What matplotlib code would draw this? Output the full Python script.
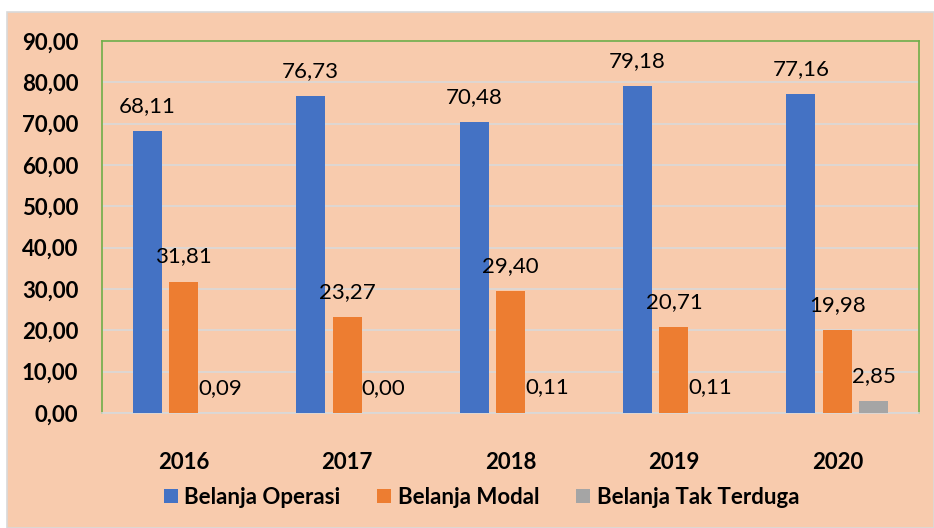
import matplotlib.pyplot as plt
import numpy as np
from matplotlib.patches import Rectangle

plt.rcParams['font.family'] = ['Lato', 'DejaVu Sans']

years = ["2016", "2017", "2018", "2019", "2020"]
operasi = [68.11, 76.73, 70.48, 79.18, 77.16]
modal = [31.81, 23.27, 29.40, 20.71, 19.98]
tak_terduga = [0.09, 0.00, 0.11, 0.11, 2.85]

series = [("Belanja Operasi", operasi, "#4472C4"),
          ("Belanja Modal", modal, "#ED7D31"),
          ("Belanja Tak Terduga", tak_terduga, "#A5A5A5")]

FS = 16

W, H = 934, 528
fig = plt.figure(figsize=(W / 100, H / 100), dpi=100, facecolor="white")
# peach chart area with a thin grey frame, kept behind the axes
fig.patches.append(Rectangle((7 / W, 0), 1 - 7 / W, 1 - 12 / H, transform=fig.transFigure,
                             facecolor="#F8CBAD", edgecolor="#D9D9D9", linewidth=1.2, zorder=-10))

ax = fig.add_axes([102 / W, 1 - 413 / H, 817 / W, 372 / H])
ax.set_facecolor("none")

x = np.arange(len(years))
step, width = 0.223, 0.177
for i, (name, vals, color) in enumerate(series):
    pos = x + (i - 1) * step
    ax.bar(pos, vals, width, color=color, label=name, zorder=3)
    for p, v in zip(pos, vals):
        ax.annotate(f"{v:.2f}".replace(".", ","), (p, v), xytext=(0, 18), textcoords="offset points",
                    ha="center", va="center", fontsize=FS, color="#000000")

ax.set_xlim(-0.5, len(years) - 0.5)
ax.set_ylim(0, 90)
ax.set_yticks(np.arange(0, 91, 10))
ax.set_yticklabels([f"{t:.2f}".replace(".", ",") for t in np.arange(0, 91, 10)],
                   fontsize=FS, fontweight="bold")
ax.set_xticks(x)
ax.set_xticklabels(years, fontsize=FS, fontweight="bold")
ax.tick_params(axis="y", length=0, pad=17)
ax.tick_params(axis="x", length=0, pad=28)
ax.grid(axis="y", color="#D9D9D9", linewidth=1.2, zorder=0)
for s in ["top", "left", "right"]:
    ax.spines[s].set_color("#70AD47")
    ax.spines[s].set_linewidth(1.2)
ax.spines["bottom"].set_color("#D9D9D9")
ax.spines["bottom"].set_linewidth(1.2)

ax.legend(loc="center", bbox_to_anchor=(0.4645, -0.227), ncol=3, frameon=False,
          prop={"size": FS, "weight": "bold"}, handlelength=0.63, handleheight=0.63,
          handletextpad=0.3, columnspacing=1.65)

fig.savefig("out.png", dpi=100)
